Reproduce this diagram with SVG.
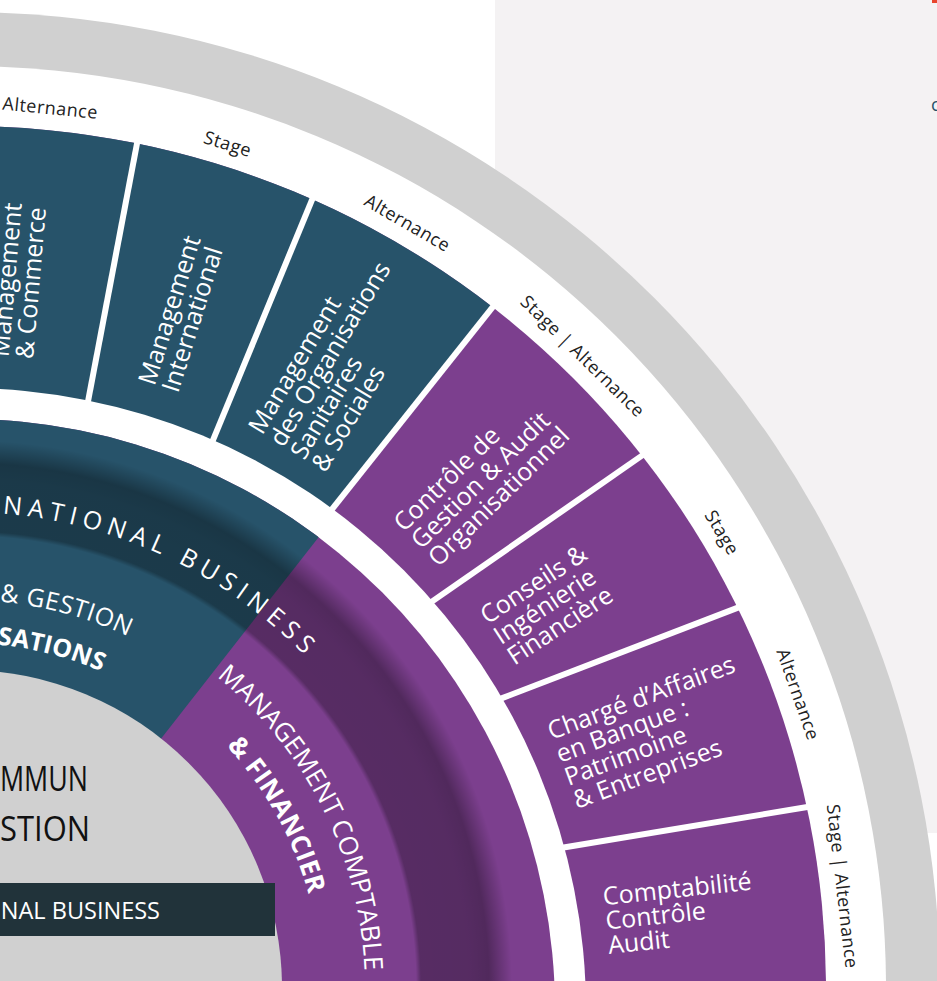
<svg xmlns="http://www.w3.org/2000/svg" width="937" height="981" viewBox="0 0 937 981">
<defs>
<style>
text { font-family: "Open Sans", "Liberation Sans", sans-serif; }
.lbl { font-size: 18px; fill: #222; text-anchor: middle; letter-spacing: 0.5px; }
.seg { font-size: 25px; fill: #fff; }
.arc { font-size: 25px; fill: #fff; }
.arcb { font-size: 25px; fill: #fff; font-weight: 700; }
.div { stroke: #fff; stroke-width: 6; }
.teal { fill: #27536a; }
.purple { fill: #7c3f8e; }
.core { font-size: 34px; fill: #111; }
</style>
<clipPath id="segClip"><circle cx="-36" cy="988" r="862"/></clipPath>
<clipPath id="ringClip"><circle cx="-36" cy="1010" r="591"/></clipPath>
<radialGradient id="band" gradientUnits="userSpaceOnUse" cx="-36" cy="988" r="548">
<stop offset="0.825" stop-color="#000" stop-opacity="0"/>
<stop offset="0.834" stop-color="#000" stop-opacity="0.3"/>
<stop offset="0.925" stop-color="#000" stop-opacity="0.31"/>
<stop offset="0.958" stop-color="#000" stop-opacity="0.35"/>
<stop offset="1" stop-color="#000" stop-opacity="0"/>
</radialGradient>
<path id="pNB" d="M -512 988 A 476 476 0 1 1 -36 1464"/>
<path id="pGE" d="M -424 988 A 388 388 0 1 1 -36 1376"/>
<path id="pOR" d="M -381 988 A 345 345 0 1 1 -36 1333"/>
<path id="pMC" d="M -437 988 A 401 401 0 1 1 -36 1389"/>
<path id="pFI" d="M -393 988 A 357 357 0 1 1 -36 1345"/>
</defs>

<rect x="0" y="0" width="937" height="981" fill="#fff"/>
<rect x="495" y="0" width="442" height="833" fill="#f4f2f3"/>
<rect x="932" y="0" width="5" height="3" fill="#e8452c"/>
<text x="931" y="111" style="font-size:18px;fill:#27536a">c</text>

<g id="outer-ring">
<circle cx="-36" cy="988" r="976" fill="#d0d0d0"/>
<circle cx="-36" cy="988" r="922" fill="#fff"/>
</g>

<g id="segments-bg">
<circle cx="-36" cy="988" r="862" class="purple"/>
<polygon clip-path="url(#segClip)" class="teal" points="-303,1308 969,-292 -400,-292 -400,1308"/>
</g>

<g id="connectors">
<line class="div" x1="86" y1="412" x2="139" y2="133"/>
<line class="div" x1="210" y1="447.4" x2="315" y2="192.6"/>
<line class="div" x1="328" y1="514.3" x2="497" y2="301.7"/>
<line class="div" x1="430.4" y1="602.6" x2="646.6" y2="452.4"/>
<line class="div" x1="497.5" y1="699.9" x2="744.5" y2="605.1"/>
<line class="div" x1="559.1" y1="848.3" x2="814.9" y2="805.7"/>
</g>

<g id="inner-ring">
<circle cx="-36" cy="1010" r="622" fill="#fff"/>
<circle cx="-36" cy="1010" r="591" class="purple"/>
<polygon clip-path="url(#ringClip)" class="teal" points="950,-270 -314,1346 -400,1346 -400,-270"/>
<circle cx="-36" cy="1010" r="591" fill="url(#band)" clip-path="url(#ringClip)"/>
<text class="arc" style="letter-spacing:6px"><textPath href="#pNB" startOffset="786">NATIONAL BUSINESS</textPath></text>
<text class="arc" style="letter-spacing:0.5px"><textPath href="#pGE" startOffset="645">&amp; GESTION</textPath></text>
<text class="arcb"><textPath href="#pOR" startOffset="575">SATIONS</textPath></text>
<text class="arc" style="font-size:26px"><textPath href="#pMC" startOffset="903">MANAGEMENT COMPTABLE</textPath></text>
<text class="arcb" style="font-size:26px;letter-spacing:0.5px"><textPath href="#pFI" startOffset="855">&amp; FINANCIER</textPath></text>
</g>

<g id="core">
<circle cx="-36" cy="988" r="318" fill="#d0d0d0"/>
<text class="core" x="0" y="791" textLength="88" lengthAdjust="spacingAndGlyphs">MMUN</text>
<text class="core" x="0" y="841" textLength="90" lengthAdjust="spacingAndGlyphs">STION</text>
</g>

<g id="bar">
<rect x="-5" y="883" width="280" height="53" fill="#21333a"/>
<text x="160" y="919" style="font-size:23.5px;fill:#fff;text-anchor:end">NAL BUSINESS</text>
</g>

<g id="seg-commerce" transform="translate(-36 988) rotate(-85.1)">
<text class="seg"><tspan x="632" y="-9.5">Management</tspan><tspan x="632" y="15">&amp; Commerce</tspan></text>
</g>
<g id="seg-international" transform="translate(-36 988) rotate(-72.6)">
<text class="seg"><tspan x="631" y="2">Management</tspan><tspan x="631" y="26.5">International</tspan></text>
</g>
<g id="seg-sanitaires" transform="translate(-36 988) rotate(-59)">
<text class="seg"><tspan x="627" y="-28.75">Management</tspan><tspan x="627" y="-4.25">des Organisations</tspan><tspan x="627" y="20.25">Sanitaires</tspan><tspan x="627" y="44.75">&amp; Sociales</tspan></text>
</g>
<g id="seg-controle" transform="translate(-36 988) rotate(-44.5)">
<text class="seg"><tspan x="633" y="-16.25">Contrôle de</tspan><tspan x="633" y="8.25">Gestion &amp; Audit</tspan><tspan x="633" y="32.75">Organisationnel</tspan></text>
</g>
<g id="seg-conseils" transform="translate(-36 988) rotate(-33.3)">
<text class="seg"><tspan x="637" y="-16.25">Conseils &amp;</tspan><tspan x="637" y="8.25">Ingénierie</tspan><tspan x="637" y="32.75">Financière</tspan></text>
</g>
<g id="seg-charge" transform="translate(-36 988) rotate(-20.3)">
<text class="seg"><tspan x="637" y="-28.75">Chargé d’Affaires</tspan><tspan x="637" y="-4.25">en Banque :</tspan><tspan x="637" y="20.25">Patrimoine</tspan><tspan x="637" y="44.75">&amp; Entreprises</tspan></text>
</g>
<g id="seg-comptabilite" transform="translate(-36 988) rotate(-6)">
<text class="seg"><tspan x="645" y="-15.5">Comptabilité</tspan><tspan x="645" y="9">Contrôle</tspan><tspan x="645" y="33.5">Audit</tspan></text>
</g>

<g id="labels">
<g transform="translate(-36 988) rotate(5.6)"><text class="lbl" x="0" y="-878">Alternance</text></g>
<g transform="translate(-36 988) rotate(17.35)"><text class="lbl" x="0" y="-878">Stage</text></g>
<g transform="translate(-36 988) rotate(30.1)"><text class="lbl" x="0" y="-878">Alternance</text></g>
<g transform="translate(-36 988) rotate(44.4)"><text class="lbl" x="0" y="-878">Stage | Alternance</text></g>
<g transform="translate(-36 988) rotate(59)"><text class="lbl" x="0" y="-878">Stage</text></g>
<g transform="translate(-36 988) rotate(70.6)"><text class="lbl" x="0" y="-878">Alternance</text></g>
<g transform="translate(-36 988) rotate(83.4)"><text class="lbl" x="0" y="-878">Stage | Alternance</text></g>
</g>
</svg>
